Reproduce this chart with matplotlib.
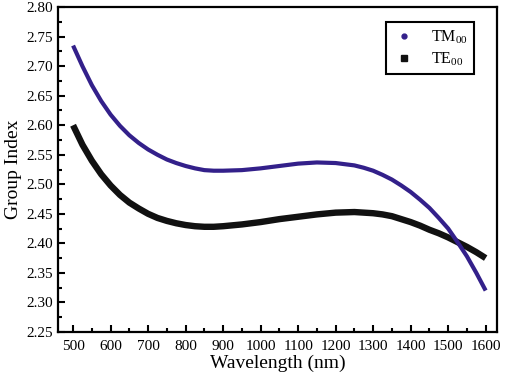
import matplotlib
matplotlib.use("Agg")
import matplotlib.pyplot as plt
from matplotlib.ticker import MultipleLocator
from matplotlib.lines import Line2D

wavelength = [500, 525, 550, 575, 600, 625, 650, 675, 700, 725, 750, 775, 800,
              825, 850, 875, 900, 950, 1000, 1050, 1100, 1150, 1200, 1250, 1275, 1300,
              1325, 1350, 1375, 1400, 1425, 1450, 1475, 1500, 1525, 1550, 1575, 1600]
tm00 = [2.735, 2.700, 2.668, 2.641, 2.618, 2.599, 2.583, 2.570, 2.559, 2.550,
        2.542, 2.536, 2.531, 2.527, 2.524, 2.523, 2.523, 2.524, 2.527, 2.531,
        2.535, 2.537, 2.536, 2.532, 2.528, 2.523, 2.516, 2.508, 2.498, 2.487, 2.474, 2.460,
        2.443, 2.425, 2.402, 2.378, 2.350, 2.320]
te00 = [2.600, 2.567, 2.540, 2.517, 2.498, 2.482, 2.469, 2.459, 2.450, 2.443,
        2.438, 2.434, 2.431, 2.429, 2.428, 2.428, 2.429, 2.432, 2.436, 2.441,
        2.445, 2.449, 2.452, 2.453, 2.452, 2.451, 2.449, 2.446, 2.441, 2.436, 2.430, 2.423,
        2.417, 2.410, 2.402, 2.394, 2.385, 2.375]
x_ticks = [500, 600, 700, 800, 900, 1000, 1100, 1200, 1300, 1400, 1500, 1600]
y_ticks = [2.25, 2.30, 2.35, 2.40, 2.45, 2.50, 2.55, 2.60, 2.65, 2.70, 2.75, 2.80]

plt.rcParams['font.family'] = ['Liberation Serif', 'DejaVu Serif']
plt.rcParams['mathtext.fontset'] = 'custom'
plt.rcParams['mathtext.rm'] = 'Liberation Serif'
plt.rcParams['mathtext.it'] = 'Liberation Serif'
plt.rcParams['mathtext.bf'] = 'Liberation Serif'

fig = plt.figure(figsize=(5.05, 3.78), dpi=100)
ax = fig.add_axes([0.115, 0.122, 0.869, 0.859])

tm_color = '#33208a'
ax.plot(wavelength, te00, color='#111111', lw=4.6, solid_capstyle='butt', solid_joinstyle='round')
ax.plot(wavelength, tm00, color=tm_color, lw=3.0, solid_capstyle='butt', solid_joinstyle='round')

ax.set_xlim(460, 1630)
ax.set_ylim(2.25, 2.80)
ax.set_xticks(x_ticks)
ax.set_yticks(y_ticks)
ax.set_yticklabels([f"{v:.2f}" for v in y_ticks])
ax.xaxis.set_minor_locator(MultipleLocator(50))
ax.yaxis.set_minor_locator(MultipleLocator(0.025))
ax.tick_params(which='both', direction='in', top=False, right=False, labelsize=11, width=1.5)
ax.tick_params(which='major', length=5)
ax.tick_params(which='minor', length=3)
ax.tick_params(axis='x', pad=6)
for s in ax.spines.values():
    s.set_linewidth(1.6)

ax.set_xlabel('Wavelength (nm)', fontsize=14, labelpad=1)
ax.set_ylabel('Group Index', fontsize=14, labelpad=3)

handles = [Line2D([], [], ls='none', marker='o', color=tm_color, markersize=3.5),
           Line2D([], [], ls='none', marker='s', color='#111111', markersize=4.5)]
leg = ax.legend(handles, ['TM$_{00}$', 'TE$_{00}$'], loc='upper right',
                bbox_to_anchor=(0.955, 0.965), fontsize=11.5, fancybox=False,
                edgecolor='black', framealpha=1, handlelength=1.4,
                borderpad=0.4, labelspacing=0.3, handletextpad=1.0,
                borderaxespad=0.2)
leg.get_frame().set_linewidth(1.5)

fig.savefig('out.png', dpi=100)
